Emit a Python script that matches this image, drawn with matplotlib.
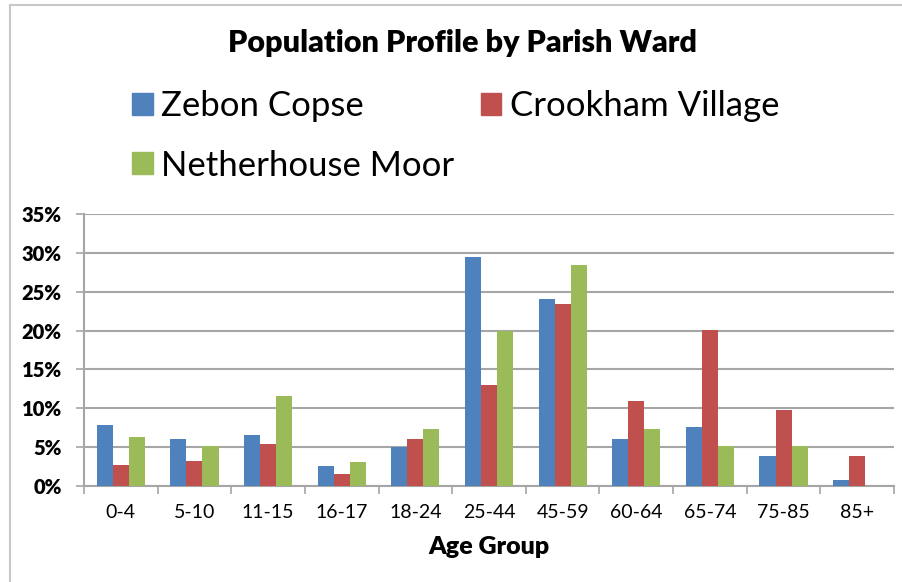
import numpy as np
import matplotlib
matplotlib.use('Agg')
import matplotlib.pyplot as plt
from matplotlib.lines import Line2D
from matplotlib.patches import Patch

plt.rcParams['font.family'] = ['Lato', 'DejaVu Sans']

# Data (percent of ward population)
age_groups = ['0-4', '5-10', '11-15', '16-17', '18-24', '25-44',
              '45-59', '60-64', '65-74', '75-85', '85+']
zebon_copse = [7.8, 6.0, 6.5, 2.6, 5.0, 29.5, 24.1, 6.0, 7.6, 3.8, 0.8]
crookham_village = [2.7, 3.2, 5.4, 1.6, 6.0, 13.0, 23.4, 10.9, 20.1, 9.8, 3.8]
netherhouse_moor = [6.3, 5.2, 11.6, 3.1, 7.3, 20.0, 28.4, 7.3, 5.2, 5.2, 0.0]

series_names = ['Zebon Copse', 'Crookham Village', 'Netherhouse Moor']
colors = ['#4F81BD', '#C0504D', '#9BBB59']

fig = plt.figure(figsize=(9.02, 5.82), dpi=100)
W, H = 902, 582

# outer chart frame (light grey)
fig.add_artist(Line2D([10 / W, 10 / W], [0, 1 - 5 / H], transform=fig.transFigure,
                      color='#c8c8c8', lw=1.5))
fig.add_artist(Line2D([10 / W, 1], [1 - 5 / H, 1 - 5 / H], transform=fig.transFigure,
                      color='#c8c8c8', lw=1.5))

ax = fig.add_axes([84 / W, (H - 486) / H, 810 / W, 272 / H])

x = np.arange(len(age_groups))
bw = 0.218
for i, (vals, c) in enumerate(zip([zebon_copse, crookham_village, netherhouse_moor], colors)):
    ax.bar(x + (i - 1) * bw, np.array(vals) / 100.0, width=bw, color=c,
           zorder=3, label=series_names[i])

ax.set_xlim(-0.5, len(age_groups) - 0.5)
ax.set_ylim(0, 0.35)
ax.set_yticks(np.arange(0, 0.351, 0.05))
ax.set_yticklabels([f'{int(round(v * 100))}%' for v in np.arange(0, 0.351, 0.05)],
                   fontsize=14.5, fontweight='heavy')
ax.yaxis.grid(True, color='#a6a6a6', lw=1.5, zorder=0)
ax.tick_params(axis='y', length=6, width=1.2, color='#a6a6a6', pad=10)

ax.set_xticks(x)
ax.set_xticklabels(age_groups, fontsize=14)
ax.set_xticks(np.arange(-0.5, len(age_groups), 1.0), minor=True)
ax.tick_params(axis='x', which='major', length=0, pad=13)
ax.tick_params(axis='x', which='minor', length=6, width=1.2, color='#a6a6a6')

for s in ['top', 'right']:
    ax.spines[s].set_visible(False)
for s in ['left', 'bottom']:
    ax.spines[s].set_color('#a6a6a6')
    ax.spines[s].set_linewidth(1.5)

ax.set_xlabel('Age Group', fontsize=18, fontweight='heavy', labelpad=11)

fig.text(462 / W, 1 - 43 / H, 'Population Profile by Parish Ward',
         ha='center', va='center', fontsize=22, fontweight='heavy')

# legend: two columns, Zebon / Netherhouse in first, Crookham in second
handles = [Patch(color=colors[0]), Patch(color=colors[2]), Patch(color=colors[1])]
labels = [series_names[0], series_names[2], series_names[1]]
fig.legend(handles, labels, loc='upper left', bbox_to_anchor=(118 / W, 1 - 76 / H),
           ncol=2, frameon=False, fontsize=25, handlelength=0.6, handleheight=0.6,
           handletextpad=0.25, columnspacing=0.75, labelspacing=0.8, borderaxespad=0)

fig.savefig('out.png', dpi=100)
